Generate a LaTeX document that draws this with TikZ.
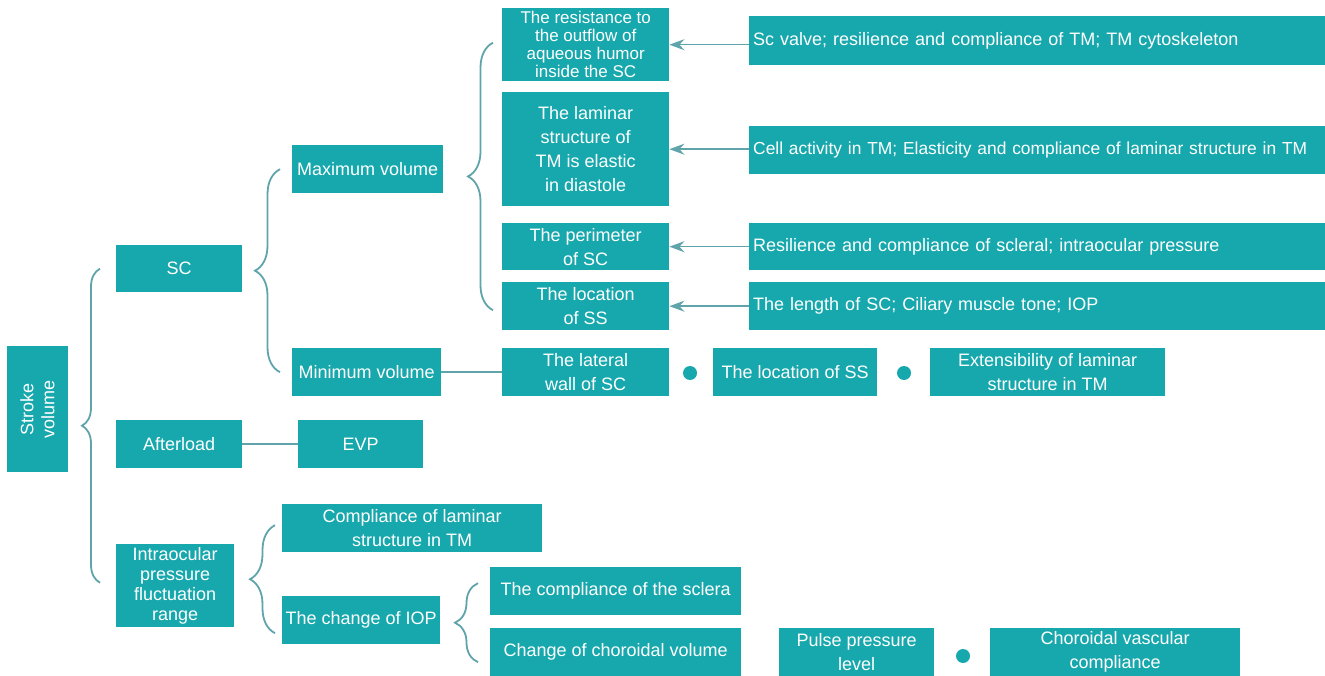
\documentclass[tikz,border=0pt]{standalone}
\usepackage{fontspec}
\setmainfont{Liberation Sans}
\usepackage{xcolor}
\usepackage{tikz}
\usetikzlibrary{arrows.meta,positioning,calc,decorations.pathreplacing}
\definecolor{boxteal}{HTML}{17A8AD}
\definecolor{linkteal}{HTML}{5FA4AB}

\begin{document}
\begin{tikzpicture}[x=1pt, y=-1pt,
  block/.style={rectangle, fill=boxteal, text=white, anchor=north west, align=center, inner sep=2pt, font=\fontsize{18}{24}\selectfont},
  wideblock/.style={block, align=left, inner xsep=4pt, text width=568pt, minimum height=48pt},
  line/.style={draw=linkteal, line width=1.6pt, -{Stealth[length=15pt, width=11pt, inset=5pt]}},
  link/.style={draw=linkteal, line width=1.8pt},
  brace/.style={draw=linkteal, line width=1.8pt, decorate, decoration={brace, amplitude=#1}},
  dot/.style={circle, fill=boxteal, inner sep=0pt, minimum size=14pt}]
  \useasboundingbox (0,0) rectangle (1325,676);
  \node [block, anchor=center, rotate=90, minimum width=126pt, minimum height=61pt, font=\fontsize{18}{21}\selectfont] (stroke) at (37.5,409) {Stroke\\volume};
  \node [block, minimum width=126pt, minimum height=47pt] (sc) at (116,245) {SC};
  \node [block, minimum width=126pt, minimum height=48pt] (after) at (116,420) {Afterload};
  \node [block, minimum width=125pt, minimum height=48pt] (evp) at (298,420) {EVP};
  \node [block, minimum width=118pt, minimum height=83pt, font=\fontsize{18}{20}\selectfont] (iop) at (116,544) {Intraocular\\pressure\\fluctuation\\range};
  \node [block, minimum width=151pt, minimum height=48pt] (maxvol) at (292,145) {Maximum volume};
  \node [block, minimum width=149pt, minimum height=48pt] (minvol) at (292,348) {Minimum volume};
  \node [block, minimum width=167pt, minimum height=73pt, inner ysep=1pt, font=\fontsize{17}{18}\selectfont] (resist) at (502,8) {The resistance to\\the outflow of\\aqueous humor\\inside the SC};
  \node [block, minimum width=167pt, minimum height=114pt] (laminar) at (502,92) {The laminar\\structure of\\TM is elastic\\in diastole};
  \node [block, minimum width=167pt, minimum height=47pt] (perim) at (502,223) {The perimeter\\of SC};
  \node [block, minimum width=167pt, minimum height=48pt] (locss) at (502,282) {The location\\of SS};
  \node [wideblock, minimum height=49pt] (scvalve) at (749,16) {Sc valve; resilience and compliance of TM; TM cytoskeleton};
  \node [wideblock, font=\fontsize{17.4}{24}\selectfont] (cell) at (749,126) {Cell activity in TM; Elasticity and compliance of laminar structure in TM};
  \node [wideblock, minimum height=47pt] (resil) at (749,223) {Resilience and compliance of scleral; intraocular pressure};
  \node [wideblock] (length) at (749,282) {The length of SC; Ciliary muscle tone; IOP};
  \node [block, minimum width=167pt, minimum height=48pt] (lateral) at (502,348) {The lateral\\wall of SC};
  \node [dot] (dotA) at (690,373) {};
  \node [block, minimum width=164pt, minimum height=48pt] (locssb) at (713,348) {The location of SS};
  \node [dot] (dotB) at (904,373) {};
  \node [block, minimum width=235pt, minimum height=48pt] (extens) at (930,348) {Extensibility of laminar\\structure in TM};
  \node [block, minimum width=260pt, minimum height=48pt] (complam) at (282,504) {Compliance of laminar\\structure in TM};
  \node [block, minimum width=158pt, minimum height=48pt] (chiop) at (282,596) {The change of IOP};
  \node [block, minimum width=251pt, minimum height=48pt] (sclera) at (490,567) {The compliance of the sclera};
  \node [block, minimum width=251pt, minimum height=48pt] (chorvol) at (490,628) {Change of choroidal volume};
  \node [block, minimum width=155pt, minimum height=48pt] (pulse) at (779,628) {Pulse pressure\\level};
  \node [dot] (dotC) at (963,656) {};
  \node [block, minimum width=250pt, minimum height=48pt] (chorcomp) at (990,628) {Choroidal vascular\\compliance};
  \path [brace=18pt] ($(iop.west)+(-16,-3)$) -- ($(sc.west)+(-16,0)$);
  \path [brace=25pt] ($(minvol.west)+(-12,0)$) -- ($(maxvol.west)+(-12,0)$);
  \path [brace=25pt] ($(locss.west)+(-9,4)$) -- ($(resist.west)+(-9,-2)$);
  \path [brace=25pt] ($(chiop.west)+(-7,13)$) -- ($(complam.west)+(-7,-3)$);
  \path [brace=23pt] ($(chorvol.west)+(-12,10)$) -- ($(sclera.west)+(-12,-8)$);
  \path [line] (scvalve.west |- resist.east) -- (resist.east);
  \path [line] (cell.west |- laminar.east) -- (laminar.east);
  \path [line] (resil.west |- perim.east) -- (perim.east);
  \path [line] (length.west |- locss.east) -- (locss.east);
  \path [link] (minvol) -- (lateral);
  \path [link] (after) -- (evp);
\end{tikzpicture}
\end{document}
